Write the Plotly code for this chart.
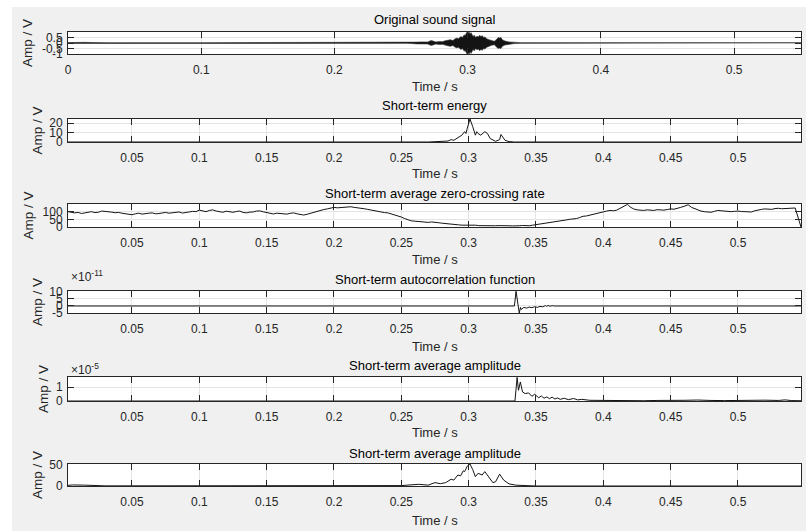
import plotly.graph_objects as go

# ---------------- data ----------------
# 1) Original sound signal (waveform envelope, +/-)
SIG_T = [0.0, 0.005, 0.012, 0.02, 0.03, 0.1, 0.2, 0.255, 0.262, 0.264, 0.266, 0.268, 0.27,
         0.2725, 0.274, 0.276, 0.279, 0.281, 0.283, 0.285, 0.287, 0.289, 0.29, 0.292, 0.293,
         0.295, 0.296, 0.2975, 0.298, 0.2995, 0.3005, 0.301, 0.302, 0.3025, 0.304, 0.305,
         0.306, 0.307, 0.308, 0.309, 0.31, 0.311, 0.312, 0.313, 0.314, 0.316, 0.318, 0.32,
         0.321, 0.322, 0.323, 0.324, 0.325, 0.326, 0.328, 0.331, 0.335, 0.34, 0.4, 0.5, 0.5502]
SIG_ENV = [0.04, 0.07, 0.06, 0.04, 0.03, 0.03, 0.03, 0.03, 0.08, 0.1, 0.07, 0.1, 0.09,
           0.22, 0.18, 0.1, 0.14, 0.12, 0.2, 0.25, 0.3, 0.22, 0.35, 0.45, 0.38,
           0.6, 0.5, 0.75, 0.65, 1.0, 0.9, 1.0, 0.8, 0.95, 0.6, 0.7,
           0.5, 0.62, 0.55, 0.7, 0.58, 0.66, 0.5, 0.55, 0.4, 0.3, 0.2, 0.16,
           0.25, 0.4, 0.5, 0.45, 0.5, 0.3, 0.18, 0.1, 0.05, 0.03, 0.03, 0.03, 0.03]

# 2) Short-term energy
EN_T = [0.0025, 0.27, 0.2846, 0.287, 0.289, 0.292, 0.294, 0.295, 0.297, 0.298, 0.299, 0.301,
        0.303, 0.305, 0.306, 0.307, 0.309, 0.312, 0.314, 0.316, 0.320, 0.323, 0.324, 0.327,
        0.330, 0.334, 0.5468]
EN_V = [0.0, 0.0, 1.0, 2.5, 1.8, 4.4, 5.5, 7.3, 11.0, 9.0, 14.6, 24.5,
        16.5, 7.3, 11.0, 9.0, 7.3, 11.0, 9.0, 3.7, 0.7, 2.5, 8.0, 1.8,
        0.4, 0.0, 0.0]

# 3) Short-term average zero-crossing rate
ZC_T = [0.0025, 0.005, 0.0075, 0.01, 0.0125, 0.015, 0.0175, 0.02, 0.0225, 0.025, 0.0275, 0.03,
        0.0325, 0.035, 0.0375, 0.04, 0.0425, 0.045, 0.0475, 0.05, 0.0525, 0.055, 0.0575, 0.06,
        0.0625, 0.065, 0.0675, 0.07, 0.0725, 0.075, 0.0775, 0.08, 0.0825, 0.085, 0.0875, 0.09,
        0.0925, 0.095, 0.0975, 0.1, 0.1025, 0.105, 0.1075, 0.11, 0.1125, 0.115, 0.1175, 0.12,
        0.1225, 0.125, 0.1275, 0.13, 0.1325, 0.135, 0.1375, 0.14, 0.1425, 0.145, 0.1475, 0.15,
        0.1525, 0.155, 0.1575, 0.16, 0.1625, 0.165, 0.1675, 0.17, 0.1725, 0.175, 0.1775, 0.18,
        0.1825, 0.185, 0.1875, 0.19, 0.1925, 0.195, 0.1975, 0.2, 0.2025, 0.205, 0.2075, 0.21,
        0.2125, 0.215, 0.2175, 0.22, 0.2225, 0.225, 0.2275, 0.23, 0.2325, 0.235, 0.2375, 0.24,
        0.2425, 0.245, 0.2475, 0.25, 0.2525, 0.255, 0.2575, 0.26, 0.2625, 0.265, 0.2675, 0.27,
        0.2725, 0.275, 0.2775, 0.28, 0.2825, 0.285, 0.2875, 0.29, 0.2925, 0.295, 0.2975, 0.3,
        0.3025, 0.305, 0.3075, 0.31, 0.3125, 0.315, 0.3175, 0.32, 0.3225, 0.325, 0.3275, 0.33,
        0.3325, 0.335, 0.3375, 0.34, 0.3425, 0.345, 0.3475, 0.35, 0.3525, 0.355, 0.3575, 0.36,
        0.3625, 0.365, 0.3675, 0.37, 0.3725, 0.375, 0.3775, 0.38, 0.3825, 0.385, 0.3875, 0.39,
        0.3925, 0.395, 0.3975, 0.4, 0.4025, 0.405, 0.4075, 0.41, 0.4125, 0.415, 0.418, 0.42,
        0.4225, 0.425, 0.4275, 0.43, 0.4325, 0.435, 0.4375, 0.44, 0.4425, 0.445, 0.4475, 0.45,
        0.4525, 0.455, 0.4575, 0.46, 0.463, 0.4655, 0.468, 0.47, 0.4725, 0.475, 0.4775, 0.48,
        0.4825, 0.485, 0.4875, 0.49, 0.4925, 0.495, 0.4975, 0.5, 0.5025, 0.505, 0.5075, 0.51,
        0.5125, 0.515, 0.5175, 0.52, 0.5225, 0.525, 0.5275, 0.53, 0.5325, 0.535, 0.5375, 0.54,
        0.5425, 0.5468]
ZC_V = [100, 98, 92, 95, 88, 92, 96, 100, 94, 96, 104, 103,
        98, 97, 93, 95, 90, 88, 84, 80, 86, 90, 84, 85,
        90, 92, 86, 88, 92, 95, 90, 92, 97, 98, 91, 93,
        98, 102, 100, 110, 103, 100, 108, 112, 104, 98, 96, 103,
        99, 96, 101, 104, 95, 92, 97, 98, 104, 105, 99, 95,
        90, 85, 90, 88, 82, 84, 89, 92, 86, 80, 78, 83,
        90, 95, 104, 110, 114, 118, 124, 128, 125, 126, 131, 130,
        132, 128, 126, 122, 119, 115, 110, 105, 102, 98, 94, 92,
        86, 80, 72, 65, 55, 45, 40, 38, 36, 35, 32, 30,
        33, 32, 28, 25, 22, 20, 18, 15, 14, 12, 13, 10,
        11, 12, 9, 8, 10, 10, 7, 8, 9, 10, 8, 8,
        7, 6, 8, 10, 9, 8, 12, 15, 18, 22, 25, 28,
        32, 35, 38, 40, 46, 50, 52, 55, 62, 70, 72, 78,
        85, 90, 96, 100, 104, 108, 106, 110, 122, 135, 148, 130,
        118, 112, 110, 108, 112, 110, 108, 113, 111, 110, 114, 118,
        116, 120, 128, 135, 145, 128, 120, 110, 104, 100, 98, 96,
        102, 108, 106, 104, 98, 100, 102, 104, 101, 100, 96, 98,
        106, 112, 115, 118, 114, 115, 120, 122, 119, 120, 123, 126,
        124, 0]

# 4) Short-term autocorrelation function (x 1e-11)
AC_T = [0.0025, 0.334, 0.3352, 0.3365, 0.3376, 0.3385, 0.339, 0.341, 0.343, 0.345, 0.347,
        0.349, 0.351, 0.353, 0.355, 0.357, 0.358, 0.359, 0.3605, 0.362, 0.364, 0.5468]
AC_V = [0.0, 0.0, 10.5, 2.0, -5.0, -1.0, -2.5, -1.0, -1.5, -0.8, -1.2,
        -0.5, -1.0, -0.3, -0.6, 0.3, -0.3, 0.4, -0.2, 0.2, 0.0, 0.0]

# 5) Short-term average amplitude (x 1e-5)
AM_T = [0.0025, 0.334, 0.3344, 0.336, 0.337, 0.3384, 0.340, 0.342, 0.3445, 0.347, 0.349, 0.352,
        0.354, 0.356, 0.358, 0.36, 0.362, 0.364, 0.366, 0.368, 0.371, 0.374, 0.378, 0.381,
        0.384, 0.39, 0.4, 0.41, 0.42, 0.43, 0.44, 0.45, 0.46, 0.47, 0.475, 0.48, 0.49, 0.5,
        0.51, 0.52, 0.53, 0.535, 0.54, 0.5468]
AM_V = [0.0, 0.0, 0.0, 1.72, 0.78, 1.39, 0.66, 0.54, 0.59, 0.34, 0.49, 0.24,
        0.37, 0.2, 0.3, 0.17, 0.28, 0.15, 0.22, 0.12, 0.2, 0.1, 0.18, 0.08,
        0.12, 0.05, 0.03, 0.05, 0.04, 0.02, 0.04, 0.03, 0.05, 0.07, 0.03, 0.04, 0.03, 0.05,
        0.03, 0.06, 0.04, 0.08, 0.03, 0.02]

# 6) Short-term average amplitude (second panel)
MG_T = [0.0025, 0.006, 0.015, 0.024, 0.03, 0.25, 0.263, 0.27, 0.275, 0.279, 0.283, 0.287,
        0.289, 0.292, 0.294, 0.296, 0.297, 0.299, 0.301, 0.303, 0.305, 0.307, 0.310, 0.312,
        0.315, 0.318, 0.320, 0.323, 0.326, 0.330, 0.335, 0.342, 0.35, 0.5468]
MG_V = [1.5, 2.5, 2.0, 1.0, 0.3, 1.0, 4.0, 2.0, 8.0, 5.5, 8.0, 16.0,
        14.0, 26.0, 24.0, 36.0, 34.0, 47.0, 52.0, 39.0, 22.0, 30.0, 26.0, 34.0,
        20.0, 8.0, 10.0, 28.0, 14.0, 5.0, 2.0, 1.0, 0.0, 0.0]

TITLES = ["Original sound signal", "Short-term energy", "Short-term average zero-crossing rate",
          "Short-term autocorrelation function", "Short-term average amplitude",
          "Short-term average amplitude"]
X1_TICKS = [0, 0.1, 0.2, 0.3, 0.4, 0.5]
X1_LABELS = ["0", "0.1", "0.2", "0.3", "0.4", "0.5"]
X_TICKS = [0.05, 0.1, 0.15, 0.2, 0.25, 0.3, 0.35, 0.4, 0.45, 0.5]
X_LABELS = ["0.05", "0.1", "0.15", "0.2", "0.25", "0.3", "0.35", "0.4", "0.45", "0.5"]
Y_TICKS = [[-1, -0.5, 0, 0.5], [0, 10, 20], [0, 50, 100], [-5e-11, 0, 5e-11, 10e-11],
           [0, 1e-5], [0, 50]]
Y_LABELS = [["-1", "-0.5", "0", "0.5"], ["0", "10", "20"], ["0", "50", "100"],
            ["-5", "0", "5", "10"], ["0", "1"], ["0", "50"]]
Y_RANGES = [[-1, 1], [0, 24.5], [0, 150], [-5e-11, 10.7e-11], [0, 1.75e-5], [0, 52]]
X_RANGES = [[0, 0.5502]] + [[0.0025, 0.5468]] * 5

# ---------------- layout geometry (pixels) ----------------
W, H = 806, 531
FONT = "Arial"
AX = "#262626"
GRID = "#e4e4e4"
LINE = "#141414"


def px(x):
    return x / W


def py(y):
    return 1 - y / H


BOXES = [(68, 801, 32, 54), (68, 801, 119, 142), (68, 801, 204, 227),
         (68, 801, 291, 313), (68, 801, 377, 401), (68, 801, 464, 486)]
TITLE_Y = [20, 105, 193, 279, 365, 453]
XLAB_Y = [87, 173, 259, 346, 432, 520]
YLAB_X = [28, 37, 28, 37, 43, 37]

fig = go.Figure()

# original signal as filled envelope
fig.add_trace(go.Scatter(
    x=SIG_T + SIG_T[::-1],
    y=SIG_ENV + [-v for v in SIG_ENV[::-1]],
    mode="lines", fill="toself", fillcolor=LINE,
    line=dict(color="#333333", width=0.6),
    xaxis="x", yaxis="y", hoverinfo="skip", showlegend=False))

series = [(EN_T, EN_V, 1.0), (ZC_T, ZC_V, 1.0), (AC_T, AC_V, 1e-11),
          (AM_T, AM_V, 1e-5), (MG_T, MG_V, 1.0)]
for k, (t, v, sc) in enumerate(series):
    i = k + 2
    fig.add_trace(go.Scatter(
        x=t, y=[a * sc for a in v], mode="lines",
        line=dict(color=LINE, width=1),
        xaxis=f"x{i}", yaxis=f"y{i}", hoverinfo="skip", showlegend=False))

layout = dict(
    width=W, height=H, margin=dict(l=0, r=0, t=0, b=0),
    paper_bgcolor="#f0f0f0", plot_bgcolor="white",
    font=dict(family=FONT, color=AX, size=12),
    showlegend=False,
)

for k, (x0, x1, y0, y1) in enumerate(BOXES):
    n = "" if k == 0 else str(k + 1)
    common = dict(ticks="inside", ticklen=6, tickwidth=1, tickcolor=AX,
                  showline=True, linecolor=AX, linewidth=1, mirror="ticks",
                  showgrid=True, gridcolor=GRID, gridwidth=1, zeroline=False,
                  tickfont=dict(size=12, color=AX, family=FONT), automargin=False,
                  fixedrange=True)
    layout["xaxis" + n] = dict(
        domain=[px(x0), px(x1)], anchor="y" + n, range=X_RANGES[k],
        tickmode="array",
        tickvals=X1_TICKS if k == 0 else X_TICKS,
        ticktext=X1_LABELS if k == 0 else X_LABELS,
        ticklabelstandoff=5, **common)
    layout["yaxis" + n] = dict(
        domain=[py(y1), py(y0)], anchor="x" + n, range=Y_RANGES[k],
        tickmode="array", tickvals=Y_TICKS[k], ticktext=Y_LABELS[k],
        ticklabelstandoff=2, **common)

ann = []
for k, (x0, x1, y0, y1) in enumerate(BOXES):
    cx = (x0 + x1) / 2
    ann.append(dict(text=TITLES[k], x=px(cx), y=py(TITLE_Y[k]), xref="paper", yref="paper",
                    xanchor="center", yanchor="middle", showarrow=False,
                    font=dict(size=13, color="black", family=FONT)))
    ann.append(dict(text="Time / s", x=px(cx), y=py(XLAB_Y[k]), xref="paper", yref="paper",
                    xanchor="center", yanchor="middle", showarrow=False,
                    font=dict(size=13, color=AX, family=FONT)))
    ann.append(dict(text="Amp / V", x=px(YLAB_X[k]), y=py((y0 + y1) / 2), xref="paper",
                    yref="paper", xanchor="center", yanchor="middle", showarrow=False,
                    textangle=-90, font=dict(size=13.5, color=AX, family=FONT)))
ann.append(dict(text="×10<sup>-11</sup>", x=px(69), y=py(276), xref="paper", yref="paper",
                xanchor="left", yanchor="middle", showarrow=False,
                font=dict(size=12, color=AX, family=FONT)))
ann.append(dict(text="×10<sup>-5</sup>", x=px(69), y=py(369), xref="paper", yref="paper",
                xanchor="left", yanchor="middle", showarrow=False,
                font=dict(size=12, color=AX, family=FONT)))
layout["annotations"] = ann

# white strips at the top and left edges of the screenshot
layout["shapes"] = [
    dict(type="rect", xref="paper", yref="paper", x0=0, x1=1, y0=py(7), y1=1,
         fillcolor="white", line=dict(width=0), layer="below"),
    dict(type="rect", xref="paper", yref="paper", x0=0, x1=px(12), y0=0, y1=1,
         fillcolor="white", line=dict(width=0), layer="below"),
]

fig.update_layout(**layout)
fig.write_html("out.html")
